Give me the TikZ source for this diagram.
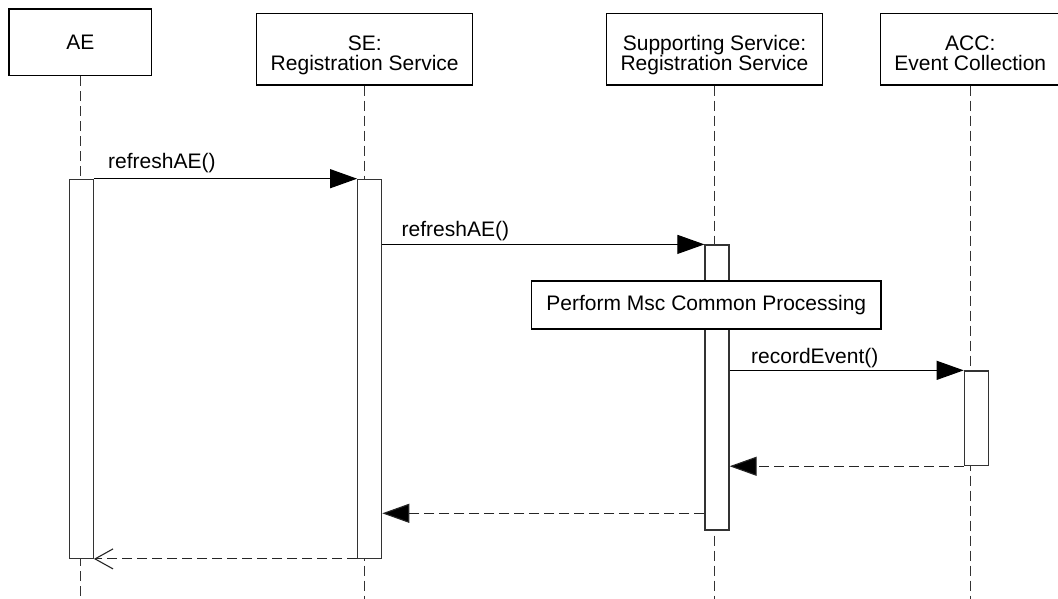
\documentclass[tikz,border=0pt]{standalone}
\usepackage{fontspec}
\setmainfont{Liberation Sans}
\usetikzlibrary{arrows.meta,calc}
\newcommand{\topstrut}{\rule{0pt}{27pt}}
\newcommand{\botstrut}{\vphantom{g}}
\begin{document}
\begin{tikzpicture}[x=1pt,y=-1pt,
  every node/.style={font=\fontsize{21}{20}\selectfont},
  objbox/.style={draw=black,line width=1.2pt,fill=white,align=center,inner sep=0pt},
  actbox/.style={draw=black!80,line width=1.2pt,fill=white,minimum width=24pt,inner sep=0pt},
  lifeline/.style={draw=black!80,line width=1.2pt,dash pattern=on 10pt off 5pt},
  callmsg/.style={draw=black,line width=1.1pt,-{Triangle[length=27pt,width=19pt]}},
  retmsg/.style={draw=black!85,line width=1.1pt,dash pattern=on 10pt off 5pt,-{Triangle[length=27pt,width=19pt,fill=black]}},
  retopen/.style={draw=black!85,line width=1.1pt,dash pattern=on 10pt off 5pt,-{Straight Barb[length=18pt,width=20pt,line width=1.1pt]}},
  msglabel/.style={anchor=base west,inner sep=0pt}]
\clip (0,0) rectangle (1058,599);
\fill[white] (0,0) rectangle (1058,599);

% objects
\node[objbox,minimum width=142.7pt,minimum height=66.7pt] (ae) at (80.3,42.3) {AE};
\node[objbox,minimum width=216pt,minimum height=71.7pt] (se) at (364.7,49.2) {\topstrut SE:\\Registration Service\botstrut};
\node[objbox,minimum width=216.4pt,minimum height=71.7pt] (ss) at (714.5,49.2) {\topstrut Supporting Service:\\Registration Service\botstrut};
\node[objbox,minimum width=180pt,minimum height=71.7pt] (acc) at (970.3,49.2) {\topstrut ACC:\\Event Collection\botstrut};

% lifeline ends
\coordinate (aeEnd) at (ae.south |- 0,599);
\coordinate (seEnd) at (se.south |- 0,599);
\coordinate (ssEnd) at (ss.south |- 0,599);
\coordinate (accEnd) at (acc.south |- 0,599);
\draw[lifeline] (ae.south) -- (aeEnd);
\draw[lifeline] (se.south) -- (seEnd);
\draw[lifeline] (ss.south) -- (ssEnd);
\draw[lifeline] (acc.south) -- (accEnd);

% activations
\node[actbox,minimum height=379pt] (aeAct) at (81.3,368.8) {};
\node[actbox,minimum height=379pt] (seAct) at (369.7,368.8) {};
\node[actbox,minimum height=285pt] (ssAct) at (717,387.5) {};
\node[actbox,minimum height=94.7pt] (accAct) at (976.3,418.3) {};

% processing box
\node[objbox,minimum width=349.3pt,minimum height=48pt] (proc) at (706.3,305) {Perform Msc Common Processing};

% messages
\draw[callmsg] (aeAct.north east) -- (seAct.north west);
\node[msglabel] (l1) at (108,168) {refreshAE()};
\draw[callmsg] (seAct.east |- ssAct.north west) -- (ssAct.north west);
\node[msglabel] (l2) at (401.5,236) {refreshAE()};
\draw[callmsg] (ssAct.east |- accAct.north west) -- (accAct.north west);
\node[msglabel] (l3) at (751,363) {recordEvent()};

% returns
\draw[retmsg] (accAct.south west) -- (ssAct.east |- accAct.south west);
\coordinate (r2) at (0,513.3);
\draw[retmsg] (ssAct.west |- r2) -- (seAct.east |- r2);
\draw[retopen] (seAct.south west) -- (aeAct.south east);
\end{tikzpicture}
\end{document}
